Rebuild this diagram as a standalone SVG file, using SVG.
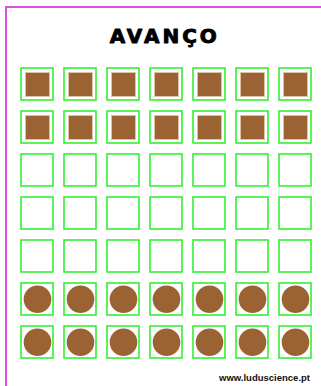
<svg xmlns="http://www.w3.org/2000/svg" width="321" height="386" viewBox="0 0 321 386">
<style>
.frame{fill:none;stroke:#e04ee0;stroke-width:2}
.cell{fill:#ffffff;stroke:#33f033;stroke-width:1.6}
.sq{fill:#9b6334;stroke:#dcc3a4;stroke-width:1}
.ci{fill:#9b6334}
.title{font-family:"DejaVu Sans",sans-serif;font-weight:bold;font-size:20px;letter-spacing:3px;fill:#000;stroke:#000;stroke-width:0.9;stroke-linejoin:round}
.url{font-family:"Liberation Sans",Arial,sans-serif;font-weight:bold;font-size:9.5px;fill:#111}
</style>
<defs>
<g id="cellBox"><rect class="cell" x="0" y="0" width="32" height="32"/></g>
<g id="sqPiece"><rect class="cell" x="0" y="0" width="32" height="32"/><rect class="sq" x="4.5" y="4.5" width="24" height="24"/></g>
<g id="ciPiece"><rect class="cell" x="0" y="0" width="32" height="32"/><circle class="ci" cx="16.5" cy="16.3" r="13.8"/></g>
</defs>
<rect width="321" height="386" fill="#ffffff"/>
<rect class="frame" x="6" y="7" width="330" height="400"/>
<text class="title" x="164.8" y="43.3" text-anchor="middle">AVANÇO</text>
<g id="board">
<g id="r1c1"><use href="#sqPiece" x="21" y="68"/></g>
<g id="r1c2"><use href="#sqPiece" x="64" y="68"/></g>
<g id="r1c3"><use href="#sqPiece" x="107" y="68"/></g>
<g id="r1c4"><use href="#sqPiece" x="150" y="68"/></g>
<g id="r1c5"><use href="#sqPiece" x="193" y="68"/></g>
<g id="r1c6"><use href="#sqPiece" x="236" y="68"/></g>
<g id="r1c7"><use href="#sqPiece" x="279" y="68"/></g>
<g id="r2c1"><use href="#sqPiece" x="21" y="111"/></g>
<g id="r2c2"><use href="#sqPiece" x="64" y="111"/></g>
<g id="r2c3"><use href="#sqPiece" x="107" y="111"/></g>
<g id="r2c4"><use href="#sqPiece" x="150" y="111"/></g>
<g id="r2c5"><use href="#sqPiece" x="193" y="111"/></g>
<g id="r2c6"><use href="#sqPiece" x="236" y="111"/></g>
<g id="r2c7"><use href="#sqPiece" x="279" y="111"/></g>
<g id="r3c1"><use href="#cellBox" x="21" y="154"/></g>
<g id="r3c2"><use href="#cellBox" x="64" y="154"/></g>
<g id="r3c3"><use href="#cellBox" x="107" y="154"/></g>
<g id="r3c4"><use href="#cellBox" x="150" y="154"/></g>
<g id="r3c5"><use href="#cellBox" x="193" y="154"/></g>
<g id="r3c6"><use href="#cellBox" x="236" y="154"/></g>
<g id="r3c7"><use href="#cellBox" x="279" y="154"/></g>
<g id="r4c1"><use href="#cellBox" x="21" y="197"/></g>
<g id="r4c2"><use href="#cellBox" x="64" y="197"/></g>
<g id="r4c3"><use href="#cellBox" x="107" y="197"/></g>
<g id="r4c4"><use href="#cellBox" x="150" y="197"/></g>
<g id="r4c5"><use href="#cellBox" x="193" y="197"/></g>
<g id="r4c6"><use href="#cellBox" x="236" y="197"/></g>
<g id="r4c7"><use href="#cellBox" x="279" y="197"/></g>
<g id="r5c1"><use href="#cellBox" x="21" y="240"/></g>
<g id="r5c2"><use href="#cellBox" x="64" y="240"/></g>
<g id="r5c3"><use href="#cellBox" x="107" y="240"/></g>
<g id="r5c4"><use href="#cellBox" x="150" y="240"/></g>
<g id="r5c5"><use href="#cellBox" x="193" y="240"/></g>
<g id="r5c6"><use href="#cellBox" x="236" y="240"/></g>
<g id="r5c7"><use href="#cellBox" x="279" y="240"/></g>
<g id="r6c1"><use href="#ciPiece" x="21" y="283"/></g>
<g id="r6c2"><use href="#ciPiece" x="64" y="283"/></g>
<g id="r6c3"><use href="#ciPiece" x="107" y="283"/></g>
<g id="r6c4"><use href="#ciPiece" x="150" y="283"/></g>
<g id="r6c5"><use href="#ciPiece" x="193" y="283"/></g>
<g id="r6c6"><use href="#ciPiece" x="236" y="283"/></g>
<g id="r6c7"><use href="#ciPiece" x="279" y="283"/></g>
<g id="r7c1"><use href="#ciPiece" x="21" y="326"/></g>
<g id="r7c2"><use href="#ciPiece" x="64" y="326"/></g>
<g id="r7c3"><use href="#ciPiece" x="107" y="326"/></g>
<g id="r7c4"><use href="#ciPiece" x="150" y="326"/></g>
<g id="r7c5"><use href="#ciPiece" x="193" y="326"/></g>
<g id="r7c6"><use href="#ciPiece" x="236" y="326"/></g>
<g id="r7c7"><use href="#ciPiece" x="279" y="326"/></g>
</g>
<g id="connectors"></g>
<text class="url" x="310" y="381" text-anchor="end">www.luduscience.pt</text>
</svg>
